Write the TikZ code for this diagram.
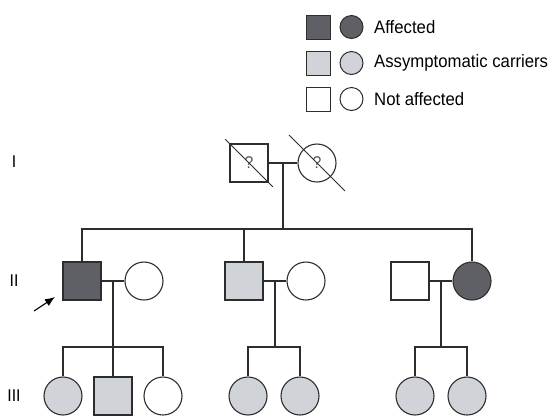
\documentclass[tikz,border=0pt]{standalone}
\usepackage{fontspec}
\setmainfont{Liberation Sans}[FakeStretch=0.93]
\usetikzlibrary{arrows.meta,positioning}

\definecolor{affected}{RGB}{95,96,101}
\definecolor{carrier}{RGB}{208,211,215}
\definecolor{pedline}{RGB}{45,45,45}

\tikzset{
	male/.style={draw=pedline,line width=1.1pt,minimum size=38pt,inner sep=0pt},
	female/.style={circle,draw=pedline,line width=1.1pt,minimum size=38pt,inner sep=0pt},
	legsq/.style={draw=pedline,line width=1pt,minimum size=24pt,inner sep=0pt},
	legci/.style={circle,draw=pedline,line width=1pt,minimum size=23pt,inner sep=0pt},
	legtxt/.style={anchor=west,inner sep=0pt,font=\fontsize{18}{18}\selectfont},
	gen/.style={inner sep=0pt,font=\fontsize{17}{17}\selectfont},
	unk/.style={font=\fontsize{17}{17}\selectfont,text=pedline!80},
	link/.style={draw=pedline,line width=1.1pt},
	dead/.style={draw=pedline,line width=1pt}
}

\begin{document}
\begin{tikzpicture}[x=1pt,y=-1pt]
	\useasboundingbox (0,0) rectangle (553,416);

	% legend
	\foreach \col/\txt [count=\n] in {affected/Affected,carrier/Assymptomatic carriers,white/Not affected}
	{
		\node[legsq,fill=\col] (Lsq\n) at (318.5,{27+36*(\n-1)}) {};
		\node[legci,fill=\col] (Lci\n) at (351.5,{27+36*(\n-1)}) {};
		\node[legtxt] (Ltx\n) at (374,{27+36*(\n-1)}) {\txt};
	}

	% generation labels
	\node[gen] (GI) at (14,162) {I};
	\node[gen] (GII) at (14,281) {II};
	\node[gen] (GIII) at (14,396) {III};

	% generation I
	\node[male,unk] (I1) at (249,163) {?};
	\node[female,unk] (I2) at (317,163) {?};
	\draw[dead,shorten <=-6pt,shorten >=-6pt] (I1.north west) -- (I1.south east);
	\draw[dead,shorten <=-20pt,shorten >=-20pt] (I2.north west) -- (I2.south east);

	% generation II
	\node[male,fill=affected] (II1) at (82,281) {};
	\node[female] (II2) at (144,281) {};
	\node[male,fill=carrier] (II3) at (244,281) {};
	\node[female] (II4) at (306,281) {};
	\node[male] (II5) at (410,281) {};
	\node[female,fill=affected] (II6) at (472,281) {};

	% generation III
	\node[female,fill=carrier] (III1) at (63,396) {};
	\node[male,fill=carrier] (III2) at (113,396) {};
	\node[female] (III3) at (163,396) {};
	\node[female,fill=carrier] (III4) at (248,396) {};
	\node[female,fill=carrier] (III5) at (300,396) {};
	\node[female,fill=carrier] (III6) at (415,396) {};
	\node[female,fill=carrier] (III7) at (467,396) {};

	% marriages
	\draw[link] (I1.east) -- coordinate[pos=0.5] (mI) (I2.west);
	\draw[link] (II1.east) -- coordinate[pos=0.5] (mA) (II2.west);
	\draw[link] (II3.east) -- coordinate[pos=0.5] (mB) (II4.west);
	\draw[link] (II5.east) -- coordinate[pos=0.5] (mC) (II6.west);

	% sibships
	\coordinate (sI) at (283,229);
	\draw[link] (mI) -- (sI);
	\draw[link] (II1.north) |- (sI) -| (II6.north);
	\draw[link] (II3.north) -- (II3.north |- sI);

	\coordinate (sA) at (113,347);
	\draw[link] (mA) -- (sA);
	\draw[link] (III1.north) |- (sA) -| (III3.north);
	\draw[link] (III2.north) -- (III2.north |- sA);

	\coordinate (sB) at (275,347);
	\draw[link] (mB) -- (sB);
	\draw[link] (III4.north) |- (sB) -| (III5.north);

	\coordinate (sC) at (441,347);
	\draw[link] (mC) -- (sC);
	\draw[link] (III6.north) |- (sC) -| (III7.north);

	% proband
	\coordinate (tail) at (34,311);
	\coordinate (tip) at (55,297);
	\draw[line width=1.1pt,-{Latex[length=10pt,width=8pt]}] (tail) -- (tip);
\end{tikzpicture}
\end{document}
